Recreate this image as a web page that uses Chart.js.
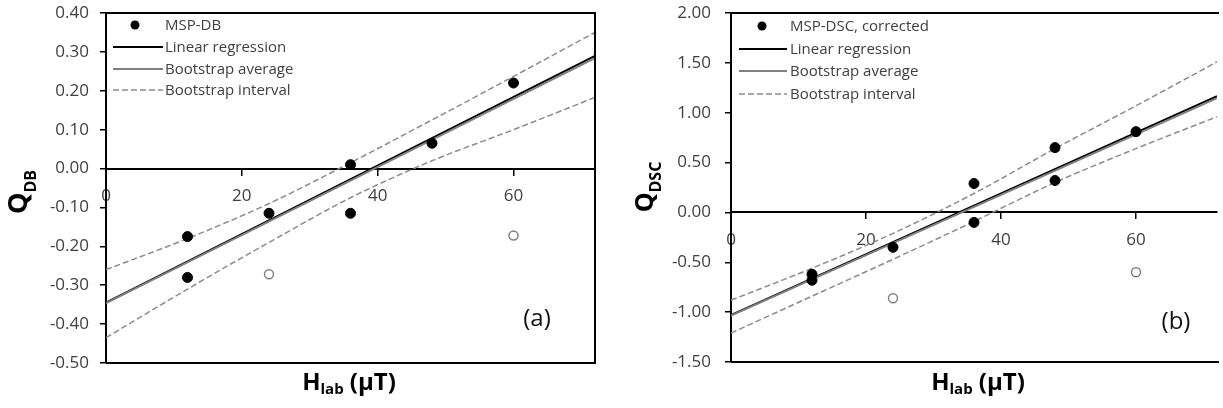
<!DOCTYPE html>
<html><head><meta charset="utf-8">
<script src="https://cdn.jsdelivr.net/npm/chart.js@4.4.1/dist/chart.umd.min.js"></script>
<style>
html,body{margin:0;padding:0;background:#fff;}
#wrap{position:relative;width:1223px;height:408px;overflow:hidden;background:#fff;}
.p{position:absolute;top:0;height:408px;}
canvas{display:block;}
</style>
</head><body>
<div id="wrap">
  <div class="p" style="left:0;width:610px"><canvas id="ca" width="610" height="408"></canvas></div>
  <div class="p" style="left:610px;width:613px"><canvas id="cb" width="613" height="408"></canvas></div>
</div>
<script>
// ---------- data ----------
const H_TICKS = [0, 20, 40, 60];
const Q_TICKS_A = [-0.5, -0.4, -0.3, -0.2, -0.1, 0, 0.1, 0.2, 0.3, 0.4];
const Q_TICKS_B = [-1.5, -1.0, -0.5, 0, 0.5, 1.0, 1.5, 2.0];

const H_LINE = [0, 72];
const H_BAND = [0, 12, 24, 36, 48, 60, 72];

// panel (a)
const H_A = [12, 12, 24, 36, 36, 48, 60];
const Q_A = [-0.175, -0.28, -0.115, 0.01, -0.115, 0.065, 0.22];
const H_A_OPEN = [24, 60];
const Q_A_OPEN = [-0.272, -0.172];
const REG_A = [-0.345, 0.290];
const AVG_A = [-0.346, 0.284];
const UP_A = [-0.26, -0.18, -0.09, 0.015, 0.125, 0.237, 0.35];
const LO_A = [-0.435, -0.31, -0.19, -0.075, 0.02, 0.10, 0.183];
const LEGEND_A = ['MSP-DB', 'Linear regression', 'Bootstrap average', 'Bootstrap interval'];

// panel (b)
const H_B = [12, 12, 24, 36, 36, 48, 48, 60];
const Q_B = [-0.62, -0.68, -0.35, 0.29, -0.10, 0.65, 0.32, 0.81];
const H_B_OPEN = [24, 60];
const Q_B_OPEN = [-0.86, -0.60];
const REG_B = [-1.03, 1.165];
const AVG_B = [-1.035, 1.145];
const UP_B = [-0.88, -0.56, -0.21, 0.19, 0.64, 1.07, 1.51];
const LO_B = [-1.21, -0.84, -0.47, -0.09, 0.30, 0.64, 0.96];
const LEGEND_B = ['MSP-DSC, corrected', 'Linear regression', 'Bootstrap average', 'Bootstrap interval'];

// ---------- rendering ----------
Chart.defaults.font.family = '"Open Sans", "DejaVu Sans", sans-serif';
Chart.defaults.animation = false;
const FONT = '"Open Sans", "DejaVu Sans", sans-serif';

function pts(xs, ys) { return xs.map((x, i) => ({x: x, y: ys[i]})); }

// dataset order: 0 points, 1 excluded points, 2 bootstrap average, 3 regression, 4/5 interval
function buildDatasets(p) {
  const band = {showLine: true, borderColor: '#8c8c8c', borderWidth: 1.5, borderDash: [6, 3],
    pointRadius: 0, cubicInterpolationMode: 'monotone', fill: false};
  return [
    {label: p.legend[0], data: pts(p.h, p.q), showLine: false, pointRadius: 5,
      pointBackgroundColor: '#000', pointBorderColor: '#000', pointBorderWidth: 1},
    {label: '', data: pts(p.hOpen, p.qOpen), showLine: false, pointRadius: 4.5,
      pointBackgroundColor: '#fff', pointBorderColor: '#808080', pointBorderWidth: 1.5},
    {label: p.legend[2], data: pts(H_LINE, p.avg), showLine: true, borderColor: '#808080',
      borderWidth: 2, pointRadius: 0},
    {label: p.legend[1], data: pts(H_LINE, p.reg), showLine: true, borderColor: '#000',
      borderWidth: 2, pointRadius: 0},
    Object.assign({label: p.legend[3], data: pts(H_BAND, p.up)}, band),
    Object.assign({label: '', data: pts(H_BAND, p.lo)}, band)
  ];
}

const decoPlugin = {
  id: 'deco',
  afterDraw(chart) {
    const p = chart.options.plugins.deco;
    const ctx = chart.ctx;
    const a = chart.chartArea;
    ctx.save();
    // frame (top, bottom, right)
    ctx.strokeStyle = '#000';
    ctx.lineWidth = 2;
    ctx.beginPath();
    ctx.moveTo(a.left, a.top); ctx.lineTo(a.right + (p.rightBorder ? 0 : 2), a.top);
    ctx.moveTo(a.left, a.bottom); ctx.lineTo(a.right + (p.rightBorder ? 0 : 2), a.bottom);
    if (p.rightBorder) { ctx.moveTo(a.right, a.top - 1); ctx.lineTo(a.right, a.bottom + 1); }
    ctx.stroke();

    // legend
    const ds = chart.data.datasets;
    const L = p.leg;
    ctx.font = '15px ' + FONT;
    ctx.textBaseline = 'middle';
    ctx.textAlign = 'left';
    [0, 3, 2, 4].forEach((di, row) => {
      const d = ds[di];
      const y = L.rows[row];
      if (row === 0) {
        ctx.beginPath();
        ctx.fillStyle = d.pointBackgroundColor;
        ctx.arc(L.dotX, y, 4.5, 0, Math.PI * 2);
        ctx.fill();
      } else {
        ctx.beginPath();
        ctx.strokeStyle = d.borderColor;
        ctx.lineWidth = d.borderWidth;
        ctx.setLineDash(d.borderDash || []);
        ctx.moveTo(L.x1, y); ctx.lineTo(L.x2, y);
        ctx.stroke();
        ctx.setLineDash([]);
      }
      ctx.fillStyle = '#404040';
      ctx.fillText(d.label, L.tx, y + 1);
    });

    // y title (rotated, with subscript)
    const T = p.yTitle;
    ctx.save();
    ctx.translate(T.x, T.y);
    ctx.rotate(-Math.PI / 2);
    ctx.fillStyle = '#000';
    ctx.textBaseline = 'alphabetic';
    ctx.font = 'bold ' + T.size + 'px ' + FONT;
    const w1 = ctx.measureText(T.main).width;
    ctx.font = 'bold ' + T.subSize + 'px ' + FONT;
    const w2 = ctx.measureText(T.sub).width;
    const x0 = -(w1 + w2) / 2;
    ctx.font = 'bold ' + T.size + 'px ' + FONT;
    ctx.fillText(T.main, x0, 0);
    ctx.font = 'bold ' + T.subSize + 'px ' + FONT;
    ctx.fillText(T.sub, x0 + w1, T.drop);
    ctx.restore();

    // x title
    const X = p.xTitle;
    ctx.fillStyle = '#000';
    ctx.textBaseline = 'alphabetic';
    ctx.font = 'bold ' + X.size + 'px ' + FONT;
    const m1 = ctx.measureText(X.main).width;
    const m3 = ctx.measureText(X.rest).width;
    ctx.font = 'bold ' + X.subSize + 'px ' + FONT;
    const m2 = ctx.measureText(X.sub).width;
    let xs = X.cx - (m1 + m2 + m3) / 2;
    ctx.font = 'bold ' + X.size + 'px ' + FONT;
    ctx.fillText(X.main, xs, X.y);
    ctx.font = 'bold ' + X.subSize + 'px ' + FONT;
    ctx.fillText(X.sub, xs + m1, X.y + X.drop);
    ctx.font = 'bold ' + X.size + 'px ' + FONT;
    ctx.fillText(X.rest, xs + m1 + m2, X.y);

    // panel tag
    ctx.font = '24px ' + FONT;
    ctx.fillStyle = '#111';
    ctx.textAlign = 'center';
    ctx.textBaseline = 'middle';
    ctx.fillText(p.tag.text, p.tag.x, p.tag.y);
    ctx.restore();
  }
};

function makeChart(id, p) {
  return new Chart(document.getElementById(id), {
    type: 'scatter',
    data: {datasets: buildDatasets(p)},
    plugins: [decoPlugin],
    options: {
      responsive: false,
      animation: false,
      layout: {padding: {left: 0, top: 13, right: p.padRight, bottom: p.padBottom}},
      plugins: {legend: {display: false}, tooltip: {enabled: false}, deco: p.deco},
      scales: {
        x: {
          type: 'linear', position: {y: 0}, min: 0, max: 72,
          afterBuildTicks: s => { s.ticks = H_TICKS.map(v => ({value: v})); },
          afterFit: s => { s.paddingLeft = 0; s.paddingRight = 0; },
          ticks: {callback: v => String(v), color: '#404040', font: {size: 17}, padding: p.xPad, maxRotation: 0, autoSkip: false},
          grid: {drawOnChartArea: false, drawTicks: true, tickLength: 6, color: '#000', lineWidth: 1.5},
          border: {display: true, color: '#000', width: 2}
        },
        y: {
          type: 'linear', position: 'left', min: p.yTicks[0], max: p.yTicks[p.yTicks.length - 1],
          afterBuildTicks: s => { s.ticks = p.yTicks.map(v => ({value: v})); },
          afterFit: s => { s.width = p.yWidth; s.paddingTop = 0; s.paddingBottom = 0; },
          ticks: {callback: v => Number(v).toFixed(2), color: '#404040', font: {size: 17}, padding: p.yPad, autoSkip: false},
          grid: {drawOnChartArea: false, drawTicks: true, tickLength: 6, color: '#000', lineWidth: 1.5},
          border: {display: true, color: '#000', width: 2}
        }
      }
    }
  });
}

makeChart('ca', {
  h: H_A, q: Q_A, hOpen: H_A_OPEN, qOpen: Q_A_OPEN, reg: REG_A, avg: AVG_A, up: UP_A, lo: LO_A,
  legend: LEGEND_A, yTicks: Q_TICKS_A, yWidth: 106, yPad: 11, xPad: 11, padRight: 15, padBottom: 45,
  deco: {
    rightBorder: true,
    leg: {dotX: 135, x1: 113, x2: 163, tx: 165, rows: [25, 47, 69, 90]},
    yTitle: {x: 27, y: 192, main: 'Q', sub: 'DB', size: 27, subSize: 16, drop: 9},
    xTitle: {cx: 349, y: 390, main: 'H', sub: 'lab', rest: ' (\u03BCT)', size: 24, subSize: 15, drop: 4},
    tag: {text: '(a)', x: 537, y: 319}
  }
});

makeChart('cb', {
  h: H_B, q: Q_B, hOpen: H_B_OPEN, qOpen: Q_B_OPEN, reg: REG_B, avg: AVG_B, up: UP_B, lo: LO_B,
  legend: LEGEND_B, yTicks: Q_TICKS_B, yWidth: 121, yPad: 14, xPad: 12, padRight: 0, padBottom: 46,
  deco: {
    rightBorder: false,
    leg: {dotX: 152, x1: 129, x2: 177, tx: 180, rows: [26, 49, 71, 94]},
    yTitle: {x: 43, y: 187, main: 'Q', sub: 'DSC', size: 25, subSize: 16, drop: 8},
    xTitle: {cx: 368, y: 390, main: 'H', sub: 'lab', rest: ' (\u03BCT)', size: 24, subSize: 15, drop: 4},
    tag: {text: '(b)', x: 566, y: 322}
  }
});
</script>
</body></html>
